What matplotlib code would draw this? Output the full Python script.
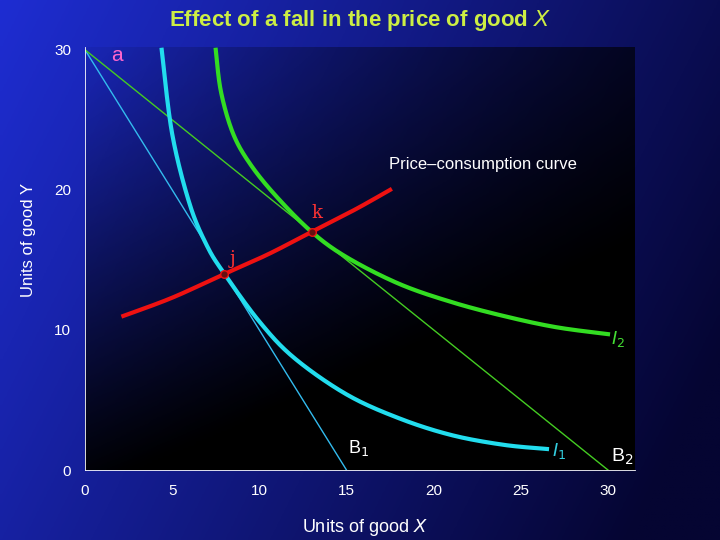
import numpy as np
import matplotlib
matplotlib.use("Agg")
import matplotlib.pyplot as plt

plt.rcParams['font.family'] = ['Liberation Sans', 'DejaVu Sans']

b1_x = [0, 15]; b1_y = [30, 0]
b2_x = [0, 30]; b2_y = [30, 0]
i1_x = [4.4, 5, 6, 7, 8, 10, 12, 15, 18, 21, 24, 26.5]
i1_y = [30, 24, 19, 16, 14, 10.6, 8, 5.4, 3.7, 2.5, 1.8, 1.5]
i2_x = [7.5, 7.8, 8.5, 9.5, 11, 13, 15, 18, 21, 24, 27, 30]
i2_y = [30, 27, 24, 21.8, 19.5, 17, 15.2, 13.3, 12, 11, 10.2, 9.7]
pcc_x = [2.2, 5, 8, 10.5, 13, 15.5, 17.5]
pcc_y = [11, 12.3, 14, 15.4, 17, 18.6, 20]
pts_x = [8, 13]; pts_y = [14, 17]

def smooth(x, y):
    xs, ys = [], []
    px = np.r_[x[0], x, x[-1]]; py = np.r_[y[0], y, y[-1]]
    for i in range(1, len(px) - 2):
        s = np.linspace(0, 1, 30)
        for arr, out in ((px, xs), (py, ys)):
            p0, p1, p2, p3 = arr[i-1], arr[i], arr[i+1], arr[i+2]
            out.extend(0.5*((2*p1) + (-p0+p2)*s + (2*p0-5*p1+4*p2-p3)*s**2 + (-p0+3*p1-3*p2+p3)*s**3))
    return xs, ys

fig = plt.figure(figsize=(7.2, 5.4), dpi=100)
bg = fig.add_axes([0, 0, 1, 1]); bg.axis('off')
gx = np.linspace(0, 1, 200)[None, :]; gy = np.linspace(0, 1, 200)[:, None]
w = np.clip(1 - 0.8*gx - 0.3*gy, 0, 1)
c1 = np.array([30, 45, 210]) / 255; c0 = np.array([5, 5, 50]) / 255
img = c0 + (c1 - c0) * w[..., None]
bg.imshow(img, aspect='auto', extent=[0, 1, 0, 1], origin='upper')

ax = fig.add_axes([85/720, 70/540, 550/720, 423/540])
ax.set_xlim(0, 31.55); ax.set_ylim(0, 30.2)
ax.set_facecolor('none')
ax.set_zorder(2)
h = np.linspace(1, 0, 200)[:, None]; v = np.linspace(0, 1, 200)[None, :]
alpha = np.clip(0.05 + 0.9*(1 - h)**1.2 + 0.6*v, 0, 1)
ov = np.zeros((200, 200, 4)); ov[..., 3] = alpha
ax.imshow(ov, aspect='auto', extent=[0, 31.55, 0, 30.2], origin='upper', zorder=0)
for s in ['top', 'right']:
    ax.spines[s].set_visible(False)
ax.spines['left'].set_color('white'); ax.spines['bottom'].set_color('white')
ax.spines['left'].set_linewidth(0.6); ax.spines['bottom'].set_linewidth(0.6)
ax.set_xticks([0, 5, 10, 15, 20, 25, 30]); ax.set_yticks([0, 10, 20, 30])
ax.tick_params(colors='white', labelsize=11, length=0, pad=10)

ax.plot(b1_x, b1_y, color='#33bbee', lw=1)
ax.plot(b2_x, b2_y, color='#44cc22', lw=1)
ax.plot(*smooth(i1_x, i1_y), color='#22ddee', lw=3)
ax.plot(*smooth(i2_x, i2_y), color='#33dd22', lw=3)
ax.plot(*smooth(pcc_x, pcc_y), color='#ee1111', lw=3)
ax.scatter(pts_x, pts_y, s=30, color='#661111', edgecolor='#ee1111', zorder=5)

ax.text(1.5, 29.6, 'a', color='#ff66cc', fontsize=15, va='center')
ax.text(13.0, 18.0, 'k', color='#ff3333', fontsize=13, family='serif')
ax.text(8.3, 14.7, 'j', color='#ff3333', fontsize=13, family='serif')
ax.text(22.8, 21.5, 'Price–consumption curve', color='white', fontsize=12, ha='center')
ax.text(30.2, 9.0, '$I_2$', color='#44dd33', fontsize=13)
ax.text(26.8, 1.0, '$I_1$', color='#33ccdd', fontsize=13)
ax.text(15.1, 1.2, 'B$_1$', color='white', fontsize=13)
ax.text(30.2, 0.6, 'B$_2$', color='white', fontsize=14)

fig.text(0.5, 0.962, 'Effect of a fall in the price of good $\\mathbf{\\mathit{X}}$', color='#ccee44',
         fontsize=16, ha='center', va='center', fontweight='bold')
fig.text(28/720, 1 - 240/540, 'Units of good Y', color='white', fontsize=12, rotation=90,
         ha='center', va='center')
fig.text(365/720, 1 - 527/540, 'Units of good $\\mathit{X}$', color='white', fontsize=13,
         ha='center', va='center')
fig.savefig('out.png', dpi=100)
